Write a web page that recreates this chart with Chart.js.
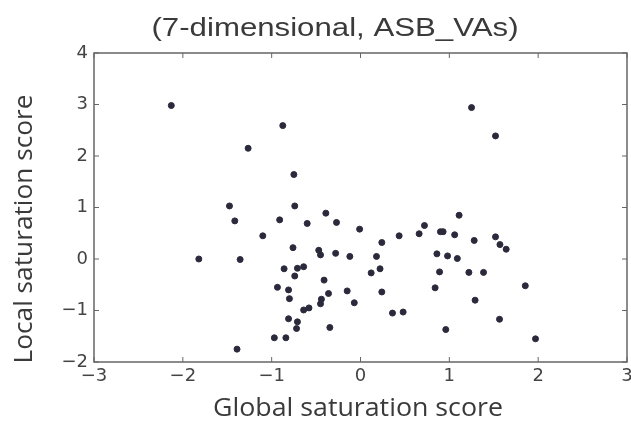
<!DOCTYPE html>
<html>
<head>
<meta charset="utf-8">
<script src="https://cdn.jsdelivr.net/npm/chart.js@4.4.1/dist/chart.umd.min.js"></script>
<style>
  html, body { margin: 0; padding: 0; background: #fff; }
  .chart-container { width: 631px; height: 426px; }
</style>
</head>
<body>
<div class="chart-container">
  <canvas id="saturationCanvas" width="631" height="426"></canvas>
</div>
<script>
const chartTitle = '(7-dimensional, ASB_VAs)';
const xLabel = 'Global saturation score';
const yLabel = 'Local saturation score';
const xTicks = [-3, -2, -1, 0, 1, 2, 3];
const yTicks = [-2, -1, 0, 1, 2, 3, 4];

// global saturation score of each point
const globalScores = [
  -2.13, -0.875, -1.265, -0.75, -1.475, -0.74, 1.25, 1.52, -0.39, -1.415,
  -0.91, -0.60, -0.27, -0.01, -1.10, -0.76, -0.47, -0.45, -0.28, -0.12,
  -1.82, -1.355, -0.86, -0.71, -0.64, -0.74, 0.12, -0.41, -0.935, -0.81,
  -0.80, -0.15, -0.36, -0.44, -0.45, -0.07, -0.58, -0.64, -0.81, -0.71,
  -0.72, -0.345, -0.97, -0.84, -1.39, 1.11, 0.72, 0.66, 0.435, 0.90,
  0.93, 1.06, 1.28, 1.52, 1.57, 1.64, 0.24, 0.18, 0.86, 0.98,
  1.09, 0.22, 0.89, 1.22, 1.385, 0.84, 1.855, 0.24, 1.29, 0.36,
  0.48, 1.565, 0.96, 1.97
];
// local saturation score of each point
const localScores = [
  2.98, 2.59, 2.15, 1.64, 1.03, 1.03, 2.94, 2.39, 0.89, 0.74,
  0.76, 0.69, 0.71, 0.58, 0.45, 0.22, 0.17, 0.08, 0.11, 0.05,
  0.00, -0.01, -0.19, -0.18, -0.15, -0.33, -0.27, -0.41, -0.55, -0.60,
  -0.77, -0.62, -0.67, -0.78, -0.87, -0.85, -0.95, -0.99, -1.16, -1.22,
  -1.35, -1.33, -1.53, -1.53, -1.75, 0.85, 0.65, 0.49, 0.45, 0.53,
  0.53, 0.47, 0.36, 0.43, 0.28, 0.19, 0.32, 0.05, 0.10, 0.06,
  0.01, -0.19, -0.25, -0.26, -0.26, -0.56, -0.52, -0.64, -0.80, -1.05,
  -1.03, -1.17, -1.37, -1.55
];

const points = globalScores.map((x, i) => ({ x: x, y: localScores[i] }));
const minus = v => (v < 0 ? '\u2212' + Math.abs(v) : String(v));

// matplotlib-like frame with inward ticks on all four sides
const framePlugin = {
  id: 'frame',
  afterDatasetsDraw(chart) {
    const { ctx, chartArea, scales } = chart;
    const tickLen = 5;
    ctx.save();
    ctx.strokeStyle = '#666';
    ctx.lineWidth = 1.5;
    ctx.strokeRect(chartArea.left, chartArea.top, chartArea.right - chartArea.left, chartArea.bottom - chartArea.top);
    ctx.lineWidth = 1;
    ctx.beginPath();
    xTicks.forEach(v => {
      const px = scales.x.getPixelForValue(v);
      ctx.moveTo(px, chartArea.bottom);
      ctx.lineTo(px, chartArea.bottom - tickLen);
      ctx.moveTo(px, chartArea.top);
      ctx.lineTo(px, chartArea.top + tickLen);
    });
    yTicks.forEach(v => {
      const py = scales.y.getPixelForValue(v);
      ctx.moveTo(chartArea.left, py);
      ctx.lineTo(chartArea.left + tickLen, py);
      ctx.moveTo(chartArea.right, py);
      ctx.lineTo(chartArea.right - tickLen, py);
    });
    ctx.stroke();
    ctx.restore();
  }
};

// title and axis labels, slightly stretched like the source image
const labelsPlugin = {
  id: 'labels',
  afterDraw(chart) {
    const ctx = chart.ctx;
    const drawText = (text, x, y, font, stretch, angle) => {
      ctx.save();
      ctx.translate(x, y);
      ctx.rotate(angle);
      ctx.scale(stretch, 1);
      ctx.font = font;
      ctx.textAlign = 'center';
      ctx.textBaseline = 'middle';
      ctx.fillStyle = '#3a3a3a';
      ctx.fillText(text, 0, 0);
      ctx.restore();
    };
    drawText(chartTitle, 335, 29, '26px "Liberation Sans", Arial', 1.2, 0);
    drawText(xLabel, 358, 409, '25px "Open Sans"', 1.07, 0);
    drawText(yLabel, 25, 229, '25px "Open Sans"', 1.05, -Math.PI / 2);
  }
};

const ctx = document.getElementById('saturationCanvas').getContext('2d');
const chart = new Chart(ctx, {
  type: 'scatter',
  data: {
    datasets: [{
      label: 'points',
      data: points,
      backgroundColor: '#2a2a3c',
      borderColor: '#2a2a3c',
      pointRadius: 3,
      pointHoverRadius: 3
    }]
  },
  options: {
    responsive: false,
    animation: false,
    layout: { padding: { top: 53, right: 4, bottom: 0, left: 0 } },
    plugins: {
      legend: { display: false },
      tooltip: { enabled: false },
      title: { display: false }
    },
    scales: {
      x: {
        type: 'linear',
        min: -3,
        max: 3,
        afterBuildTicks: scale => { scale.ticks = xTicks.map(v => ({ value: v })); },
        afterFit: scale => {
          scale.height = 64;
          scale.paddingLeft = 0;
          scale.paddingRight = 0;
        },
        grid: { display: false, drawTicks: false },
        border: { display: false },
        ticks: {
          color: '#444',
          padding: 4,
          font: { family: 'DejaVu Sans', size: 18 },
          callback: v => minus(v)
        }
      },
      y: {
        type: 'linear',
        min: -2,
        max: 4,
        afterBuildTicks: scale => { scale.ticks = yTicks.map(v => ({ value: v })); },
        afterFit: scale => {
          scale.width = 94;
          scale.paddingTop = 0;
          scale.paddingBottom = 0;
        },
        grid: { display: false, drawTicks: false },
        border: { display: false },
        ticks: {
          color: '#444',
          padding: 6,
          font: { family: 'DejaVu Sans', size: 18 },
          callback: v => minus(v)
        }
      }
    }
  },
  plugins: [framePlugin, labelsPlugin]
});
</script>
</body>
</html>
